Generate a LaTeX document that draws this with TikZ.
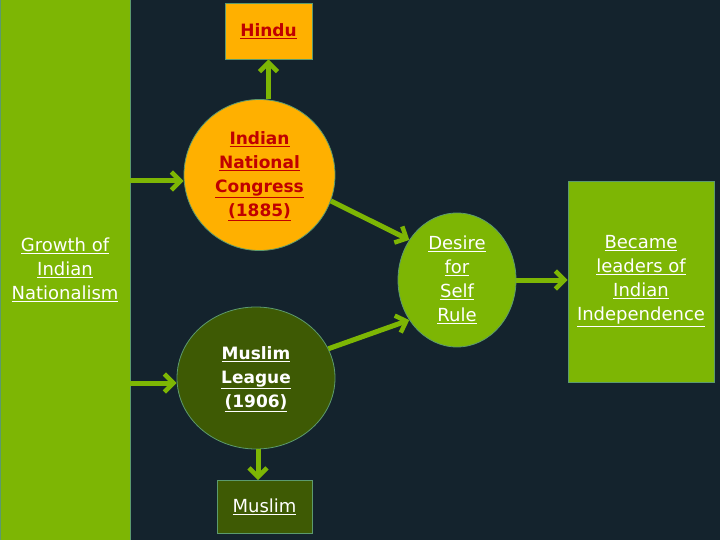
\documentclass[tikz,border=0pt]{standalone}
\usepackage{fontspec}
\setmainfont{DejaVu Sans}
\usetikzlibrary{arrows.meta,shapes.geometric}
\definecolor{bg}{HTML}{14232D}
\definecolor{lgreen}{HTML}{7DB604}
\definecolor{dgreen}{HTML}{3E5A04}
\definecolor{orng}{HTML}{FFB000}
\definecolor{dred}{HTML}{C00000}
\definecolor{edge}{HTML}{5C9A6E}
\tikzset{
  x=1pt,y=-1pt,
  txt/.style={font=\fontsize{18}{24}\selectfont,align=center,inner sep=0pt},
  btxt/.style={font=\fontsize{17}{24}\selectfont\bfseries,align=center,inner sep=0pt},
  box/.style={draw=edge,line width=0.8pt,inner sep=0pt},
  arr/.style={draw=lgreen,line width=5pt,-{Straight Barb[length=9pt,width=18pt,line width=4.5pt]}},
}
\newcommand{\ul}[1]{\underline{#1}}
\begin{document}
\begin{tikzpicture}
\fill[bg] (0,0) rectangle (720,540);
\useasboundingbox (0,0) rectangle (720,540);
% left rectangle
\node[box,fill=lgreen,minimum width=130pt,minimum height=541pt,anchor=north west] (grow) at (0,-0.5) {};
\node[txt,text=white] (growt) at (65,270) {\ul{Growth of}\\\ul{Indian}\\\ul{Nationalism}};
% Hindu
\node[box,fill=orng,minimum width=87pt,minimum height=56pt] (hindu) at (268.5,31) {};
\node[btxt,text=dred] at (268.5,31) {\ul{Hindu}};
% INC
\node[box,fill=orng,circle,minimum size=151pt] (inc) at (259.5,175) {};
\node[btxt,text=dred] at (259.5,176) {\ul{Indian}\\\ul{National}\\\ul{Congress}\\\ul{(1885)}};
% Muslim League
\node[box,fill=dgreen,ellipse,minimum width=158pt,minimum height=142pt] (ml) at (256,378) {};
\node[btxt,text=white] at (256,379) {\ul{Muslim}\\\ul{League}\\\ul{(1906)}};
% Muslim
\node[box,fill=dgreen,minimum width=95pt,minimum height=53pt] (mus) at (264.5,507) {};
\node[txt,text=white] at (264.5,507) {\ul{Muslim}};
% Desire
\node[box,fill=lgreen,ellipse,minimum width=118pt,minimum height=134pt] (des) at (457,280) {};
\node[txt,text=white] at (457,280) {\ul{Desire}\\\ul{for}\\\ul{Self}\\\ul{Rule}};
% Became
\node[box,fill=lgreen,minimum width=146pt,minimum height=201pt] (bec) at (641,281.5) {};
\node[txt,text=white] at (641,281) {\ul{Became}\\\ul{leaders of}\\\ul{Indian}\\\ul{Independence}};
% connectors
\coordinate (a1) at (130,181);
\coordinate (a2) at (130,383);
\draw[arr] (a1) -- (inc.west |- a1);
\draw[arr] (a2) -- (ml.west |- a2);
\draw[arr] (inc.north -| hindu.south) -- (hindu.south);
\draw[arr] (ml.south -| 258,0) -- (258,0 |- mus.north);
\draw[arr] (inc.-20) -- (des.140);
\draw[arr] (ml.22) -- (des.-140);
\draw[arr] (des.east) -- (bec.west |- des.east);
\end{tikzpicture}
\end{document}
